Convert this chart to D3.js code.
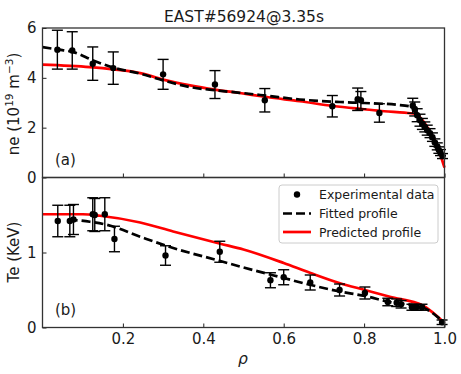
<!DOCTYPE html>
<html><head><meta charset="utf-8">
<script src="https://cdn.jsdelivr.net/npm/d3@7"></script>
<style>body{margin:0;background:#fff}svg{display:block;font-family:"DejaVu Sans",sans-serif}</style>
</head><body><svg id="c" width="461" height="374"></svg>
<script>
// ---- data ----
const neRho = [0.037,0.074,0.125,0.176,0.30,0.429,0.553,0.721,0.784,0.792,0.838,0.921,0.926,0.932,0.939,0.945,0.951,0.957,0.964,0.970,0.976,0.982,0.986,0.990,0.995];
const neVal = [5.13,5.10,4.57,4.39,4.14,3.73,3.10,2.86,3.14,3.10,2.59,2.88,2.75,2.50,2.30,2.15,2.03,1.90,1.78,1.62,1.40,1.25,1.10,1.00,0.86];
const neErr = [0.78,0.75,0.67,0.65,0.60,0.56,0.47,0.43,0.45,0.35,0.37,0.30,0.28,0.26,0.24,0.22,0.20,0.20,0.18,0.17,0.15,0.14,0.13,0.12,0.10];
const neFitRho = [0,0.037,0.077,0.126,0.176,0.243,0.30,0.367,0.429,0.491,0.558,0.64,0.74,0.80,0.88,0.92,0.93,0.95,0.97,0.99,1.0];
const neFitVal = [5.23,5.14,5.03,4.70,4.41,4.17,3.90,3.63,3.50,3.40,3.28,3.13,3.03,2.99,2.92,2.83,2.62,2.10,1.60,1.00,0.80];
const nePredRho = [0,0.118,0.176,0.243,0.30,0.367,0.429,0.491,0.558,0.64,0.723,0.80,0.85,0.90,0.93,0.945,0.96,0.98,1.0];
const nePredVal = [4.53,4.43,4.34,4.19,3.93,3.70,3.53,3.39,3.23,3.06,2.87,2.74,2.66,2.60,2.55,2.30,1.95,1.35,0.40];

const teRho = [0.038,0.068,0.077,0.125,0.130,0.155,0.179,0.306,0.441,0.567,0.600,0.666,0.739,0.802,0.859,0.881,0.892,0.919,0.930,0.944,0.994];
const teVal = [1.42,1.42,1.44,1.51,1.50,1.51,1.18,0.96,1.01,0.63,0.67,0.60,0.50,0.46,0.34,0.33,0.31,0.27,0.27,0.27,0.07];
const teErr = [0.21,0.21,0.20,0.22,0.22,0.22,0.17,0.13,0.14,0.10,0.10,0.10,0.08,0.08,0.05,0.05,0.05,0.04,0.04,0.04,0.03];
const teFitRho = [0.065,0.118,0.16,0.243,0.325,0.44,0.50,0.60,0.665,0.74,0.802,0.864,0.944,1.0];
const teFitVal = [1.44,1.41,1.37,1.21,1.06,0.89,0.80,0.66,0.57,0.48,0.42,0.34,0.27,0.06];
const tePredRho = [0,0.10,0.143,0.243,0.325,0.44,0.50,0.60,0.665,0.74,0.802,0.864,0.947,1.0];
const tePredVal = [1.51,1.51,1.49,1.40,1.28,1.12,1.04,0.86,0.73,0.59,0.50,0.41,0.29,0.06];

const xTicks = [0.2,0.4,0.6,0.8,1.0];
const neTicks = [0,2,4,6];
const teTicks = [0,1];
const legendLabels = ["Experimental data","Fitted profile","Predicted profile"];
const title = "EAST#56924@3.35s";

// ---- layout ----
const svg = d3.select("#c");
const L = 42.5, R = 444.5, T1 = 28, B1 = 177.5, T2 = 177.5, B2 = 327.5;
const x = d3.scaleLinear().domain([0,1]).range([L,R]);
const yNe = d3.scaleLinear().domain([0,6]).range([B1,T1]);
const yTe = d3.scaleLinear().domain([0,2]).range([B2,T2]);
const RED = "#ff0000";
const TXT = "#1a1a1a";

function panel(y, ticks, rho, val, err, fR, fV, pR, pV, lbl, top, bottom, showX){
  const g = svg.append("g");
  const line = d3.line().x(d=>x(d[0])).y(d=>y(d[1])).curve(d3.curveMonotoneX);
  g.append("path").attr("d", line(pR.map((r,i)=>[r,pV[i]])))
    .attr("fill","none").attr("stroke",RED).attr("stroke-width",2.7);
  g.append("path").attr("d", line(fR.map((r,i)=>[r,fV[i]])))
    .attr("fill","none").attr("stroke","#000").attr("stroke-width",2.7).attr("stroke-dasharray","9,4");
  const eb = g.append("g").attr("stroke","#000").attr("stroke-width",1.4);
  rho.forEach((r,i)=>{
    const cx = x(r), y0 = y(val[i]-err[i]), y1 = y(val[i]+err[i]);
    eb.append("line").attr("x1",cx).attr("x2",cx).attr("y1",y0).attr("y2",y1);
    eb.append("line").attr("x1",cx-5.5).attr("x2",cx+5.5).attr("y1",y0).attr("y2",y0);
    eb.append("line").attr("x1",cx-5.5).attr("x2",cx+5.5).attr("y1",y1).attr("y2",y1);
  });
  g.append("g").selectAll("circle").data(rho).join("circle")
    .attr("cx",d=>x(d)).attr("cy",(d,i)=>y(val[i])).attr("r",3.2).attr("fill","#000");
  const ax = d3.axisBottom(x).tickValues(xTicks).tickSizeInner(-4).tickSizeOuter(0).tickPadding(6).tickFormat(showX?d3.format(".1f"):()=> "");
  const gx = svg.append("g").attr("transform",`translate(0,${bottom})`).call(ax);
  const ay = d3.axisLeft(y).tickValues(ticks).tickSizeInner(-4).tickSizeOuter(0).tickPadding(6).tickFormat(d3.format("d"));
  const gy = svg.append("g").attr("transform",`translate(${L},0)`).call(ay);
  [gx,gy].forEach(a=>{a.select(".domain").remove();a.selectAll("line").attr("stroke","#222");
    a.selectAll("text").attr("font-size",15).attr("fill",TXT).attr("font-family","DejaVu Sans");});
  svg.append("rect").attr("x",L).attr("y",top).attr("width",R-L).attr("height",bottom-top)
    .attr("fill","none").attr("stroke","#333").attr("stroke-width",1.3);
  svg.append("text").attr("x",55).attr("y",bottom-13).attr("font-size",15).attr("fill",TXT).text(lbl);
}
panel(yNe, neTicks, neRho, neVal, neErr, neFitRho, neFitVal, nePredRho, nePredVal, "(a)", T1, B1, false);
panel(yTe, teTicks, teRho, teVal, teErr, teFitRho, teFitVal, tePredRho, tePredVal, "(b)", T2, B2, true);

svg.append("text").attr("x",244).attr("y",22).attr("text-anchor","middle").attr("font-size",15.5).attr("fill",TXT).text(title);
const yl1 = svg.append("text").attr("transform","translate(19,104) rotate(-90)").attr("text-anchor","middle").attr("font-size",15).attr("fill",TXT);
yl1.append("tspan").text("ne (10");
yl1.append("tspan").attr("font-size",10.5).attr("dy",-6).text("19");
yl1.append("tspan").attr("dy",6).text(" m");
yl1.append("tspan").attr("font-size",10.5).attr("dy",-6).text("−3");
yl1.append("tspan").attr("dy",6).text(")");
svg.append("text").attr("transform","translate(19,252) rotate(-90)").attr("text-anchor","middle").attr("font-size",15).attr("fill",TXT).text("Te (KeV)");
svg.append("text").attr("x",243).attr("y",364).attr("text-anchor","middle").attr("font-size",15.5).attr("font-style","italic").attr("fill",TXT).text("ρ");

const lg = svg.append("g");
lg.append("rect").attr("x",279).attr("y",185).attr("width",159).attr("height",58).attr("rx",3)
  .attr("fill","#fff").attr("fill-opacity",0.85).attr("stroke","#ccc").attr("stroke-width",1);
const ly = [194.5,213.5,232];
lg.append("circle").attr("cx",297).attr("cy",ly[0]).attr("r",3.2).attr("fill","#000");
lg.append("line").attr("x1",283).attr("x2",311).attr("y1",ly[1]).attr("y2",ly[1]).attr("stroke","#000").attr("stroke-width",2.7).attr("stroke-dasharray","9,4");
lg.append("line").attr("x1",283).attr("x2",311).attr("y1",ly[2]).attr("y2",ly[2]).attr("stroke",RED).attr("stroke-width",2.7);
legendLabels.forEach((t,i)=>lg.append("text").attr("x",319).attr("y",ly[i]+4.5).attr("font-size",12.5).attr("fill",TXT).text(t));
</script></body></html>
